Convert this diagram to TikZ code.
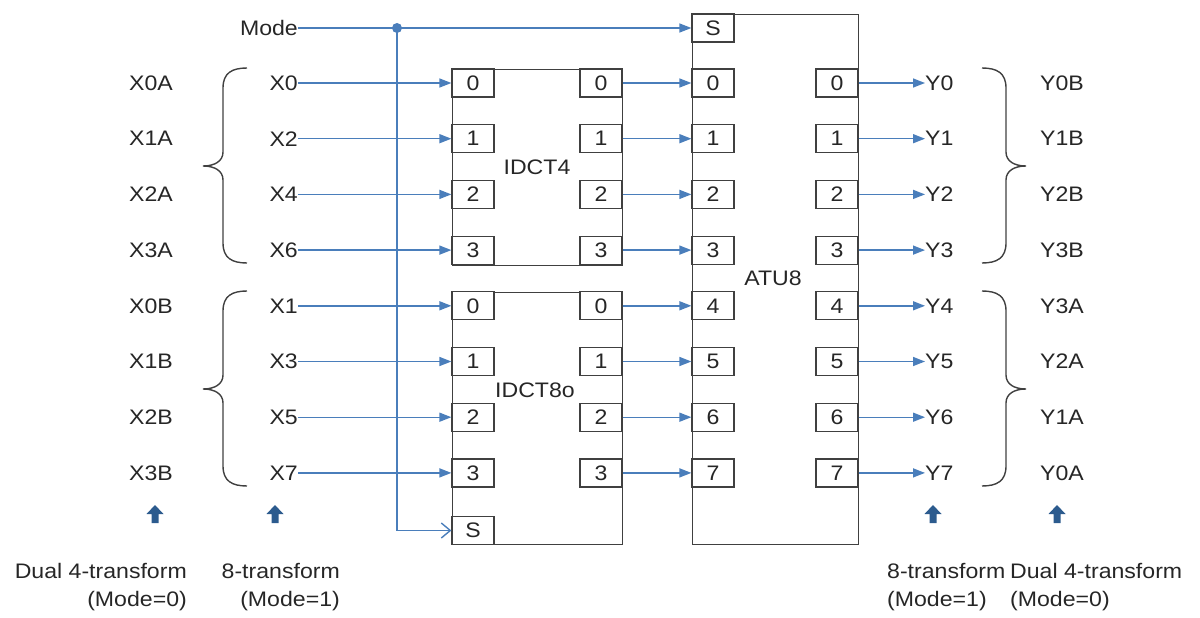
\documentclass[tikz,border=0pt]{standalone}
\usepackage{fontspec}
\setmainfont{Liberation Sans}[FakeStretch=1.1]
\usetikzlibrary{arrows.meta}
\definecolor{lnblue}{HTML}{4A7EBB}
\definecolor{dkblue}{HTML}{2C5B8E}
\definecolor{boxgray}{HTML}{404040}
\definecolor{txt}{HTML}{262626}
\begin{document}
\begin{tikzpicture}[x=1pt,y=-1pt,
  every node/.style={font=\fontsize{21}{28}\selectfont, text=txt},
  blockbox/.style={draw=boxgray, line width=1.2pt, minimum width=#1, inner sep=0pt, anchor=north west},
  portbox/.style={draw=boxgray, line width=1.2pt, fill=white, minimum width=42pt, minimum height=28pt, inner sep=0pt},
  sig/.style={draw=lnblue, line width=1.4pt, -{Triangle[length=12pt,width=9pt]}},
  openarr/.style={draw=lnblue, line width=1.4pt, -{Straight Barb[length=9pt,width=15pt,line width=1.4pt]}},
  lbl/.style={inner sep=0pt},
  bracepath/.style={draw=boxgray, line width=1.4pt},
  fatarrow/.style={fill=dkblue, draw=none}
]
\useasboundingbox (0,0) rectangle (1200,618);

% blocks
\node[blockbox=170pt, minimum height=196pt] (idctf) at (452,69) {};
\node[blockbox=170pt, minimum height=252pt] (idcte) at (452,292) {};
\node[blockbox=166pt, minimum height=530pt] (atu) at (692,14) {};

\node (labf) at (537,167) {IDCT4};
\node (labe) at (535,390) {IDCT8o};
\node (laba) at (773,278) {ATU8};

% ports
\foreach \i in {0,...,3}{
  \pgfmathsetmacro{\yy}{83+55.7*\i}
  \pgfmathsetmacro{\yb}{83+55.7*(\i+4)}
  \node[portbox] (fin\i) at (473,\yy) {\i};
  \node[portbox] (fout\i) at (601,\yy) {\i};
  \node[portbox] (ein\i) at (473,\yb) {\i};
  \node[portbox] (eout\i) at (601,\yb) {\i};
}
\foreach \i in {0,...,7}{
  \pgfmathsetmacro{\yy}{83+55.7*\i}
  \node[portbox] (ain\i) at (713,\yy) {\i};
  \node[portbox] (aout\i) at (837,\yy) {\i};
}
\node[portbox] (aS) at (713,28) {S};
\node[portbox] (eS) at (473,530.5) {S};

% mode
\node[lbl, anchor=east] (mode) at (298,28) {Mode};
\coordinate (dot) at (397,28);
\coordinate (corner) at (397,530.5);
\draw[sig] (mode.east) -- (aS.west);
\draw[openarr] (dot) -- (corner) -- (eS.west);
\fill[lnblue] (dot) circle (5pt);

% inputs
\foreach \n/\i in {0/0,2/1,4/2,6/3}{
  \pgfmathsetmacro{\yy}{83+55.7*\i}
  \node[lbl, anchor=east] (x\n) at (298,\yy) {X\n};
  \draw[sig] (x\n.east) -- (fin\i.west);
}
\foreach \n/\i in {1/0,3/1,5/2,7/3}{
  \pgfmathsetmacro{\yy}{83+55.7*(\i+4)}
  \node[lbl, anchor=east] (x\n) at (298,\yy) {X\n};
  \draw[sig] (x\n.east) -- (ein\i.west);
}

% internal
\foreach \i in {0,...,3}{
  \pgfmathtruncatemacro{\j}{\i+4}
  \draw[sig] (fout\i.east) -- (ain\i.west);
  \draw[sig] (eout\i.east) -- (ain\j.west);
}

% outputs
\foreach \i in {0,...,7}{
  \pgfmathsetmacro{\yy}{83+55.7*\i}
  \node[lbl, anchor=west] (y\i) at (925,\yy) {Y\i};
  \draw[sig] (aout\i.east) -- (y\i.west);
}

% side labels
\foreach \t [count=\k from 0] in {X0A,X1A,X2A,X3A,X0B,X1B,X2B,X3B}{
  \pgfmathsetmacro{\yy}{83+55.7*\k}
  \node (l\t) at (151,\yy) {\t};
}
\foreach \t [count=\k from 0] in {Y0B,Y1B,Y2B,Y3B,Y3A,Y2A,Y1A,Y0A}{
  \pgfmathsetmacro{\yy}{83+55.7*\k}
  \node (r\t) at (1062,\yy) {\t};
}

% braces
\foreach \yt in {68,291}{
  \draw[bracepath] (247,\yt) .. controls (232,\yt) and (223,\yt+5) .. (223,\yt+20)
    -- (223,\yt+84) .. controls (223,\yt+93) and (215,\yt+98) .. (203,\yt+98)
    .. controls (215,\yt+98) and (223,\yt+103) .. (223,\yt+112)
    -- (223,\yt+175) .. controls (223,\yt+190) and (232,\yt+195) .. (247,\yt+195);
  \draw[bracepath] (982,\yt) .. controls (997,\yt) and (1006,\yt+5) .. (1006,\yt+20)
    -- (1006,\yt+84) .. controls (1006,\yt+93) and (1014,\yt+98) .. (1026,\yt+98)
    .. controls (1014,\yt+98) and (1006,\yt+103) .. (1006,\yt+112)
    -- (1006,\yt+175) .. controls (1006,\yt+190) and (997,\yt+195) .. (982,\yt+195);
}

% fat up arrows
\foreach \cx in {155,275,933,1057}{
  \fill[fatarrow] (\cx,505) -- (\cx+8.5,514) -- (\cx+3.5,514) -- (\cx+3.5,523)
    -- (\cx-3.5,523) -- (\cx-3.5,514) -- (\cx-8.5,514) -- cycle;
}

% bottom captions
\node[lbl, anchor=north east, align=right] (capa) at (187,563) {Dual 4-transform\\(Mode=0)};
\node[lbl, anchor=north east, align=right] (capb) at (340,563) {8-transform\\(Mode=1)};
\node[lbl, anchor=north west, align=left] (capc) at (887,563) {8-transform\\(Mode=1)};
\node[lbl, anchor=north west, align=left] (capd) at (1010,563) {Dual 4-transform\\(Mode=0)};
\end{tikzpicture}
\end{document}
